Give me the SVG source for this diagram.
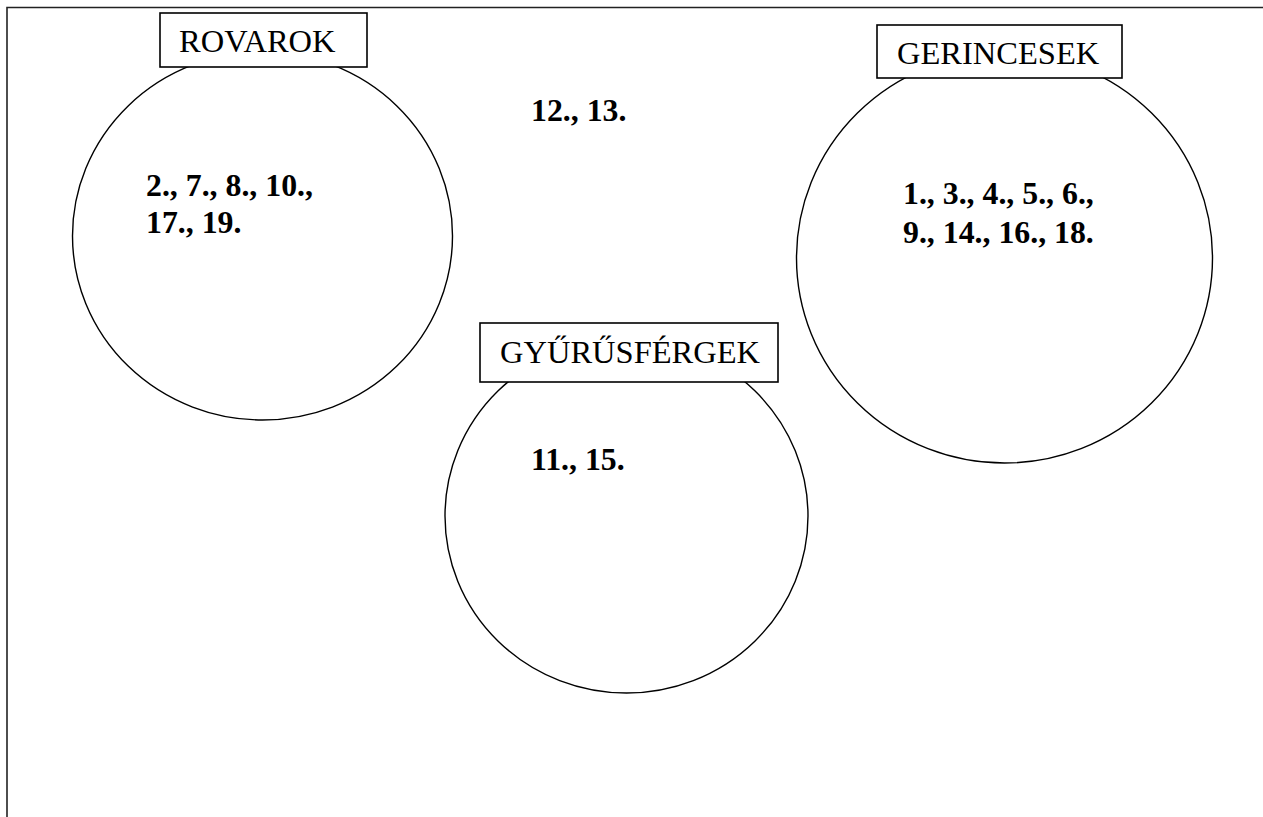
<svg xmlns="http://www.w3.org/2000/svg" width="1263" height="817" viewBox="0 0 1263 817">
<style>
.frame{fill:none;stroke:#222;stroke-width:1.6}
.set{fill:#fff;stroke:#000;stroke-width:1.4}
.box{fill:#fff;stroke:#000;stroke-width:1.6}
.lbl{font-family:"Liberation Serif","Times New Roman",serif;font-size:32.5px;fill:#000}
.num{font-family:"Liberation Serif","Times New Roman",serif;font-size:31.8px;font-weight:bold;fill:#000}
</style>
<rect width="1263" height="817" fill="#fff"/>
<path class="frame" d="M7,817 V7.5 H1263"/>
<g id="connectors"/>
<g id="rovarok">
<ellipse class="set" cx="262.5" cy="236" rx="190" ry="184"/>
<rect class="box" x="160" y="13" width="207" height="54"/>
<text class="lbl" x="179" y="51.7">ROVAROK</text>
<text class="num" x="146" y="196">2., 7., 8., 10.,</text>
<text class="num" x="146" y="232.7">17., 19.</text>
</g>
<g id="gerincesek">
<ellipse class="set" cx="1004.5" cy="258" rx="208" ry="205"/>
<rect class="box" x="877" y="25" width="245" height="53"/>
<text class="lbl" x="897" y="64.3">GERINCESEK</text>
<text class="num" x="903" y="204">1., 3., 4., 5., 6.,</text>
<text class="num" x="903" y="243.3">9., 14., 16., 18.</text>
</g>
<g id="gyurusfergek">
<ellipse class="set" cx="626.5" cy="516" rx="181.5" ry="177"/>
<rect class="box" x="480" y="323" width="298" height="59"/>
<text class="lbl" x="500" y="363.3">GYŰRŰSFÉRGEK</text>
<text class="num" x="531" y="470">11., 15.</text>
</g>
<g id="outside">
<text class="num" x="531" y="120.7">12., 13.</text>
</g>
</svg>
